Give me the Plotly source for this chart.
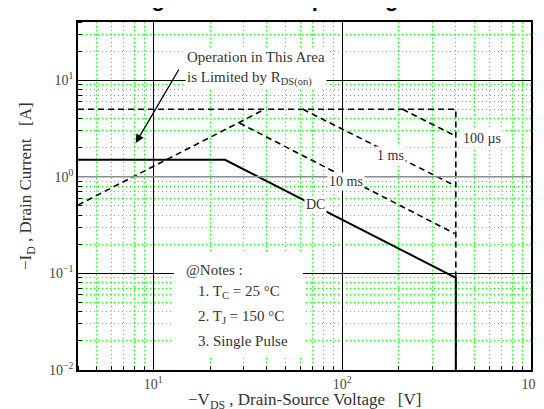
import math
import plotly.graph_objects as go

# ---------------- data ----------------
x_range = [4, 1000]          # -VDS [V]
y_range = [0.01, 40]         # -ID [A]

x_tick_vals = [10, 100, 1000]
x_tick_text = ["10<sup>1</sup>", "10<sup>2</sup>", "10<sup>3</sup>"]
y_tick_vals = [0.01, 0.1, 1, 10]
y_tick_text = ["10<sup>−2</sup>", "10<sup>−1</sup>", "10<sup>0</sup>", "10<sup>1</sup>"]

dc_v = [4, 24, 400, 400]
dc_i = [1.5, 1.5, 0.09, 0.01]

rds_v = [4, 39]
rds_i = [0.51, 5.0]

lim_v = [4, 400, 400]
lim_i = [5.0, 5.0, 0.01]

us100_v = [209, 400]
us100_i = [5.0, 2.63]

ms1_v = [62, 400]
ms1_i = [5.0, 0.80]

ms10_v = [28.6, 400]
ms10_i = [3.6, 0.255]

# ---------------- layout geometry ----------------
W, H = 544, 409
L, R, T, B = 70, 11, 14, 47
PW, PH = W - L - R, H - T - B

def px(xp):
    return (xp - L) / PW

def py(yp):
    return (H - B - yp) / PH

SERIF = "Liberation Serif"
TXT = "#333333"

fig = go.Figure()

dash_style = dict(color="black", width=1.6, dash="6px,4px")

for xs, ys, ln in [
    (lim_v, lim_i, dash_style),
    (rds_v, rds_i, dash_style),
    (us100_v, us100_i, dash_style),
    (ms1_v, ms1_i, dash_style),
    (ms10_v, ms10_i, dash_style),
    (dc_v, dc_i, dict(color="black", width=2)),
]:
    fig.add_trace(go.Scatter(x=xs, y=ys, mode="lines", line=ln,
                             showlegend=False, hoverinfo="skip"))

axis_common = dict(
    type="log",
    tickmode="array",
    showgrid=True,
    gridcolor="black",
    gridwidth=1,
    zeroline=False,
    showline=True,
    mirror=True,
    linecolor="black",
    linewidth=1.5,
    ticks="",
    tickfont=dict(family=SERIF, size=14, color="#444444"),
    minor=dict(dtick="D1", showgrid=True, gridcolor="#00ff00",
               griddash="1px,3px", gridwidth=1,
               ticks="inside", ticklen=4, tickcolor="black", tickwidth=1),
)

fig.update_xaxes(range=[math.log10(x_range[0]), math.log10(x_range[1])],
                 tickvals=x_tick_vals, ticktext=x_tick_text, **axis_common)
fig.update_yaxes(range=[math.log10(y_range[0]), math.log10(y_range[1])],
                 tickvals=y_tick_vals, ticktext=y_tick_text, **axis_common)

ylo, yhi = math.log10(y_range[0]), math.log10(y_range[1])
one_paper = (0 - ylo) / (yhi - ylo)

shapes = [
    # gray 1 A reference line
    dict(type="line", xref="paper", yref="paper", x0=0, x1=1,
         y0=one_paper, y1=one_paper, line=dict(color="#8c8c8c", width=1.6),
         layer="above"),
    # white notes box
    dict(type="rect", xref="paper", yref="paper",
         x0=px(168), x1=px(300), y0=py(348), y1=py(243),
         fillcolor="white", line=dict(width=0), layer="above"),
]

ann = []

def label(text, xp, yp, size=14, xanchor="center", bg="white", **kw):
    d = dict(text=text, xref="paper", yref="paper", x=px(xp), y=py(yp),
             xanchor=xanchor, yanchor="middle", showarrow=False,
             font=dict(family=SERIF, size=size, color=TXT), borderpad=1, **kw)
    if bg:
        d["bgcolor"] = bg
    ann.append(d)

label("Operation in This Area<br>is Limited by R<sub>DS(on)</sub>", 179, 60,
      size=15, xanchor="left", align="left")
# arrow
ann.append(dict(text="", xref="paper", yref="paper", x=px(129), y=py(135),
                ax=173 - 129, ay=60 - 135, axref="pixel", ayref="pixel",
                showarrow=True, arrowhead=2, arrowsize=1.3, arrowwidth=1.3,
                arrowcolor="black", standoff=0))

label("100 µs", 483, 130)
label("1 ms", 389, 147)
label("10 ms", 344, 173)
label("DC", 313, 196)

label("@Notes :", 178, 262, size=15, xanchor="left", bg=None)
label("1. T<sub>C</sub> = 25 °C", 191, 284, size=15, xanchor="left", bg=None)
label("2. T<sub>J</sub> = 150 °C", 191, 309, size=15, xanchor="left", bg=None)
label("3. Single Pulse", 191, 333, size=15, xanchor="left", bg=None)

# axis titles
sp = "\u00a0"
ann.append(dict(text=f"−V<sub>DS</sub>{sp},{sp}Drain-Source Voltage{sp*3}[V]",
                xref="paper", yref="paper", x=px(301), y=py(393),
                xanchor="center", yanchor="middle", showarrow=False,
                font=dict(family=SERIF, size=17, color=TXT)))
ann.append(dict(text=f"−I<sub>D</sub>{sp},{sp}Drain Current{sp*3}[A]",
                xref="paper", yref="paper", x=px(18), y=py(178),
                xanchor="center", yanchor="middle", showarrow=False, textangle=-90,
                font=dict(family=SERIF, size=17, color=TXT)))

# title (mostly cropped above the visible area)
ann.append(dict(text="<b>Figure 10. Safe Operating Area</b>",
                xref="paper", yref="paper", x=px(289), y=py(5),
                xanchor="center", yanchor="bottom", showarrow=False,
                font=dict(family="Liberation Sans", size=22, color="black")))

fig.update_layout(
    width=W, height=H,
    margin=dict(l=L, r=R, t=T, b=B),
    paper_bgcolor="white",
    plot_bgcolor="white",
    shapes=shapes,
    annotations=ann,
)

fig.write_html("out.html")
